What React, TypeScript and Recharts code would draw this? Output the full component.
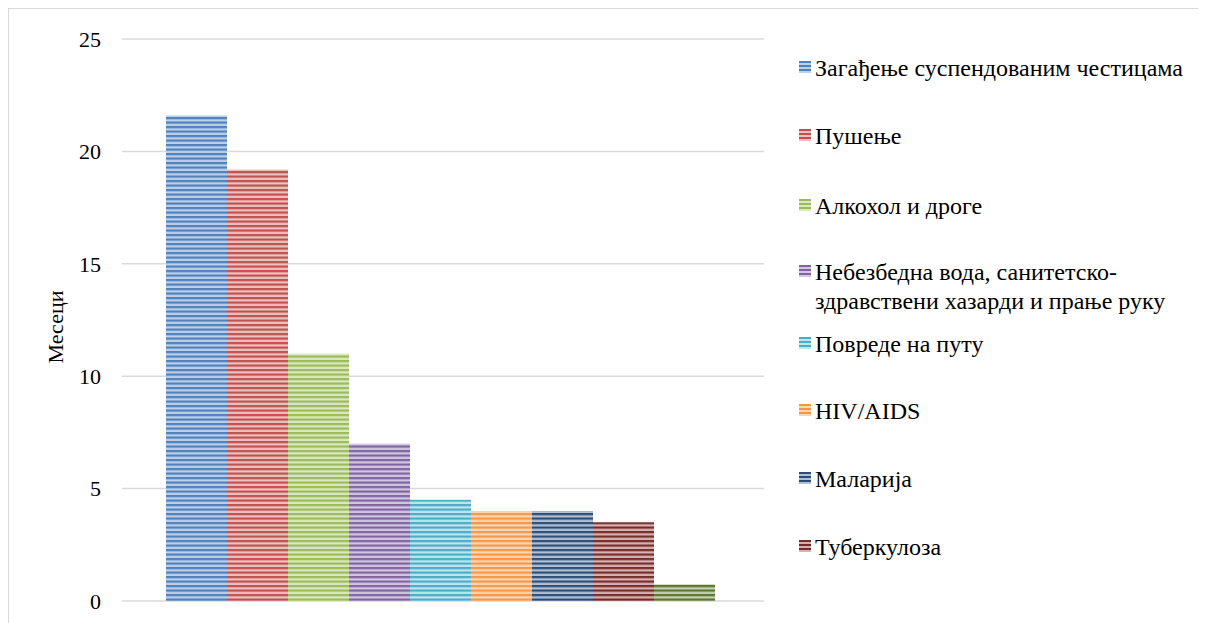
import { BarChart, Bar, XAxis, YAxis, CartesianGrid, Legend } from "recharts";

const SERIES = [
  "Загађење суспендованим честицама",
  "Пушење",
  "Алкохол и дроге",
  "Небезбедна вода, санитетско-здравствени хазарди и прање руку",
  "Повреде на путу",
  "HIV/AIDS",
  "Маларија",
  "Туберкулоза",
  "Остало",
];
const VALUES = [21.6, 19.2, 11, 7, 4.5, 4, 4, 3.5, 0.75];
const DARK = ["#4f81bd", "#c0504d", "#9bbb59", "#8064a2", "#4bacc6", "#f79646", "#2c4d75", "#772c2a", "#5f7530"];
const LIGHT = ["#bcd0e8", "#ecc1c0", "#dbe8c4", "#d2c6e0", "#c1e5ee", "#fbd6b5", "#b1c0d4", "#d5b3b2", "#c6d2b1"];
const Y_TICKS = [0, 5, 10, 15, 20, 25];

const FONT = "Liberation Serif";

// gap under each legend entry (Excel spaces them unevenly)
const LEGEND_GAPS = [39, 41, 37, 14, 38, 39, 39, 39];

const data = [
  SERIES.reduce<Record<string, number | string>>(
    (row, _, i) => {
      row[`s${i}`] = VALUES[i];
      return row;
    },
    { name: "" }
  ),
];

const renderLegend = () => (
  <div style={{ fontFamily: FONT, fontSize: 24, color: "#000" }}>
    {SERIES.slice(0, 8).map((s, i) => (
      <div
        key={s}
        style={{ display: "flex", alignItems: "flex-start", lineHeight: "29px", marginBottom: LEGEND_GAPS[i] }}
      >
        <span
          style={{
            width: 12,
            height: 12,
            marginTop: 7,
            marginRight: 4,
            flex: "none",
            background: `repeating-linear-gradient(to bottom, ${DARK[i]} 0 2px, ${LIGHT[i]} 2px 4px)`,
          }}
        />
        <span style={{ width: 385 }}>{s}</span>
      </div>
    ))}
  </div>
);

export default function App() {
  return (
    <div
      style={{
        width: 1197,
        height: 614,
        borderTop: "1px solid #d9d9d9",
        borderLeft: "1px solid #d9d9d9",
        position: "relative",
        background: "#fff",
      }}
    >
      <style>{"html,body{overflow:hidden}"}</style>
      <BarChart
        width={1197}
        height={614}
        data={data}
        margin={{ top: 30, right: 449, left: 0, bottom: 22 }}
        barCategoryGap={44}
        barGap={0}
      >
        <defs>
          {DARK.map((c, i) => (
            <pattern key={c} id={`stripe${i}`} width={8} height={4.5} patternUnits="userSpaceOnUse">
              <rect width={8} height={4.5} fill={LIGHT[i]} />
              <rect width={8} height={2.2} fill={c} />
            </pattern>
          ))}
        </defs>
        <CartesianGrid vertical={false} stroke="#d9d9d9" strokeWidth={1.5} x={113} width={642} />
        <XAxis dataKey="name" hide />
        <YAxis
          width={113}
          domain={[0, 25]}
          ticks={Y_TICKS}
          axisLine={false}
          tickLine={false}
          tickMargin={15}
          tick={{ fontFamily: FONT, fontSize: 22, fill: "#000" }}
          label={({ viewBox }: any) => (
            <text
              x={46}
              y={viewBox.y + viewBox.height / 2 + 7}
              transform={`rotate(-90 46 ${viewBox.y + viewBox.height / 2 + 7})`}
              textAnchor="middle"
              dominantBaseline="central"
              fontFamily={FONT}
              fontSize={22}
              fill="#000"
            >
              Месеци
            </text>
          )}
        />
        <Legend
          layout="vertical"
          align="center"
          verticalAlign="middle"
          wrapperStyle={{ left: 790, top: 45, width: 410 }}
          content={renderLegend}
        />
        {SERIES.map((s, i) => (
          <Bar
            key={s}
            dataKey={`s${i}`}
            name={s}
            fill={`url(#stripe${i})`}
            legendType={i === 8 ? "none" : "square"}
            isAnimationActive={false}
          />
        ))}
      </BarChart>
    </div>
  );
}
